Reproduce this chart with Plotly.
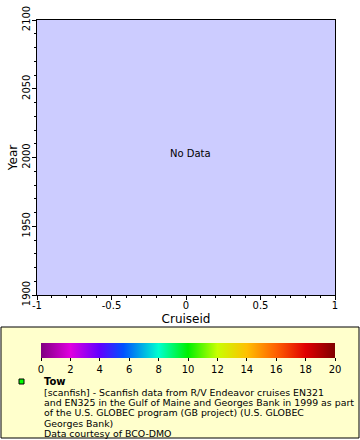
import plotly.graph_objects as go

# ---- data ----
cruiseid = []          # no data points
year = []
x_range = [-1, 1]
y_range = [1900, 2100]
cbar_min, cbar_max, cbar_step = 0, 20, 2
palette_stops = [0.0, 0.1, 0.2, 0.28, 0.4, 0.5, 0.6, 0.7, 0.8, 0.9, 1.0]
palette_colors = ["#800080", "#e000e0", "#6000ff", "#0050ff", "#00ffd0",
                  "#00f000", "#c8ff00", "#ffc000", "#ff6000", "#e00000", "#800000"]
legend_title = "Tow"
legend_lines = [
    "[scanfish] - Scanfish data from R/V Endeavor cruises EN321",
    "and EN325 in the Gulf of Maine and Georges Bank in 1999 as part",
    "of the U.S. GLOBEC program (GB project) (U.S. GLOBEC",
    "Georges Bank)",
    "Data courtesy of BCO-DMO",
]

W, H = 360, 440
L, R, T, B = 37, 335, 20, 295
pw, ph = R - L, B - T


def px(x):
    return (x - L) / pw


def py(y):
    return (B - y) / ph


FONT = "DejaVu Sans"
colorscale = [[s, c] for s, c in zip(palette_stops, palette_colors)]

fig = go.Figure()
fig.add_trace(go.Scatter(x=cruiseid, y=year, mode="markers", showlegend=False))
# dummy trace carrying the colour bar
fig.add_trace(go.Scatter(
    x=[None], y=[None], mode="markers", showlegend=False, hoverinfo="skip",
    marker=dict(color=[cbar_min], cmin=cbar_min, cmax=cbar_max, colorscale=colorscale,
                showscale=True,
                colorbar=dict(orientation="h", x=px(41), xanchor="left",
                              y=py(343), yanchor="top", yref="paper",
                              len=294, lenmode="pixels", thickness=15,
                              thicknessmode="pixels", outlinewidth=0,
                              ticks="outside", ticklen=3, tickcolor="black",
                              tick0=0, dtick=cbar_step, xpad=0, ypad=0,
                              tickfont=dict(family=FONT, size=10, color="black"))),
))

fig.update_layout(
    width=W, height=H,
    margin=dict(l=L, r=W - R, t=T, b=H - B, pad=0, autoexpand=False),
    paper_bgcolor="white", plot_bgcolor="#ccccff",
    font=dict(family=FONT, size=10, color="black"),
    showlegend=False,
)
fig.update_xaxes(range=x_range, showgrid=False, zeroline=False, showline=True,
                 linecolor="black", linewidth=1, mirror=True,
                 ticks="outside", ticklen=4, tickcolor="black",
                 tickvals=[-1, -0.5, 0, 0.5, 1], ticktext=["-1", "-0.5", "0", "0.5", "1"],
                 minor=dict(dtick=0.1, ticks="outside", ticklen=2, tickcolor="black"),
                 tickfont=dict(size=10), ticklabelstandoff=-3,
                 title=dict(text="Cruiseid", font=dict(size=12), standoff=4))
fig.update_yaxes(range=y_range, showgrid=False, zeroline=False, showline=True,
                 linecolor="black", linewidth=1, mirror=True,
                 ticks="outside", ticklen=4, tickcolor="black", dtick=50,
                 minor=dict(dtick=10, ticks="outside", ticklen=2, tickcolor="black"),
                 tickangle=-90, tickfont=dict(size=10), ticklabelstandoff=-2,
                 title=dict(text="Year", font=dict(size=12), standoff=0))

fig.add_annotation(x=px(190), y=py(153), xref="paper", yref="paper", text="No Data",
                   showarrow=False, font=dict(size=10))

# legend box
fig.add_shape(type="rect", xref="paper", yref="paper", layer="below",
              x0=px(1), x1=px(359), y0=py(327), y1=py(438),
              fillcolor="#ffffcc", line=dict(color="black", width=1))
fig.add_shape(type="rect", xref="paper", yref="paper",
              x0=px(19), x1=px(24), y0=py(379), y1=py(384),
              fillcolor="#00ff00", line=dict(color="black", width=1))
fig.add_annotation(x=px(42), y=py(381), xref="paper", yref="paper",
                   text="<b>" + legend_title + "</b>", showarrow=False,
                   xanchor="left", yanchor="middle", font=dict(size=10))
for i, line in enumerate(legend_lines):
    fig.add_annotation(x=px(42), y=py(392 + i * 10.4), xref="paper", yref="paper",
                       text=line, showarrow=False, xanchor="left", yanchor="middle",
                       font=dict(size=9.4))

fig.write_html("out.html", config={"displayModeBar": False},
               post_script="document.body.style.margin='0';")
